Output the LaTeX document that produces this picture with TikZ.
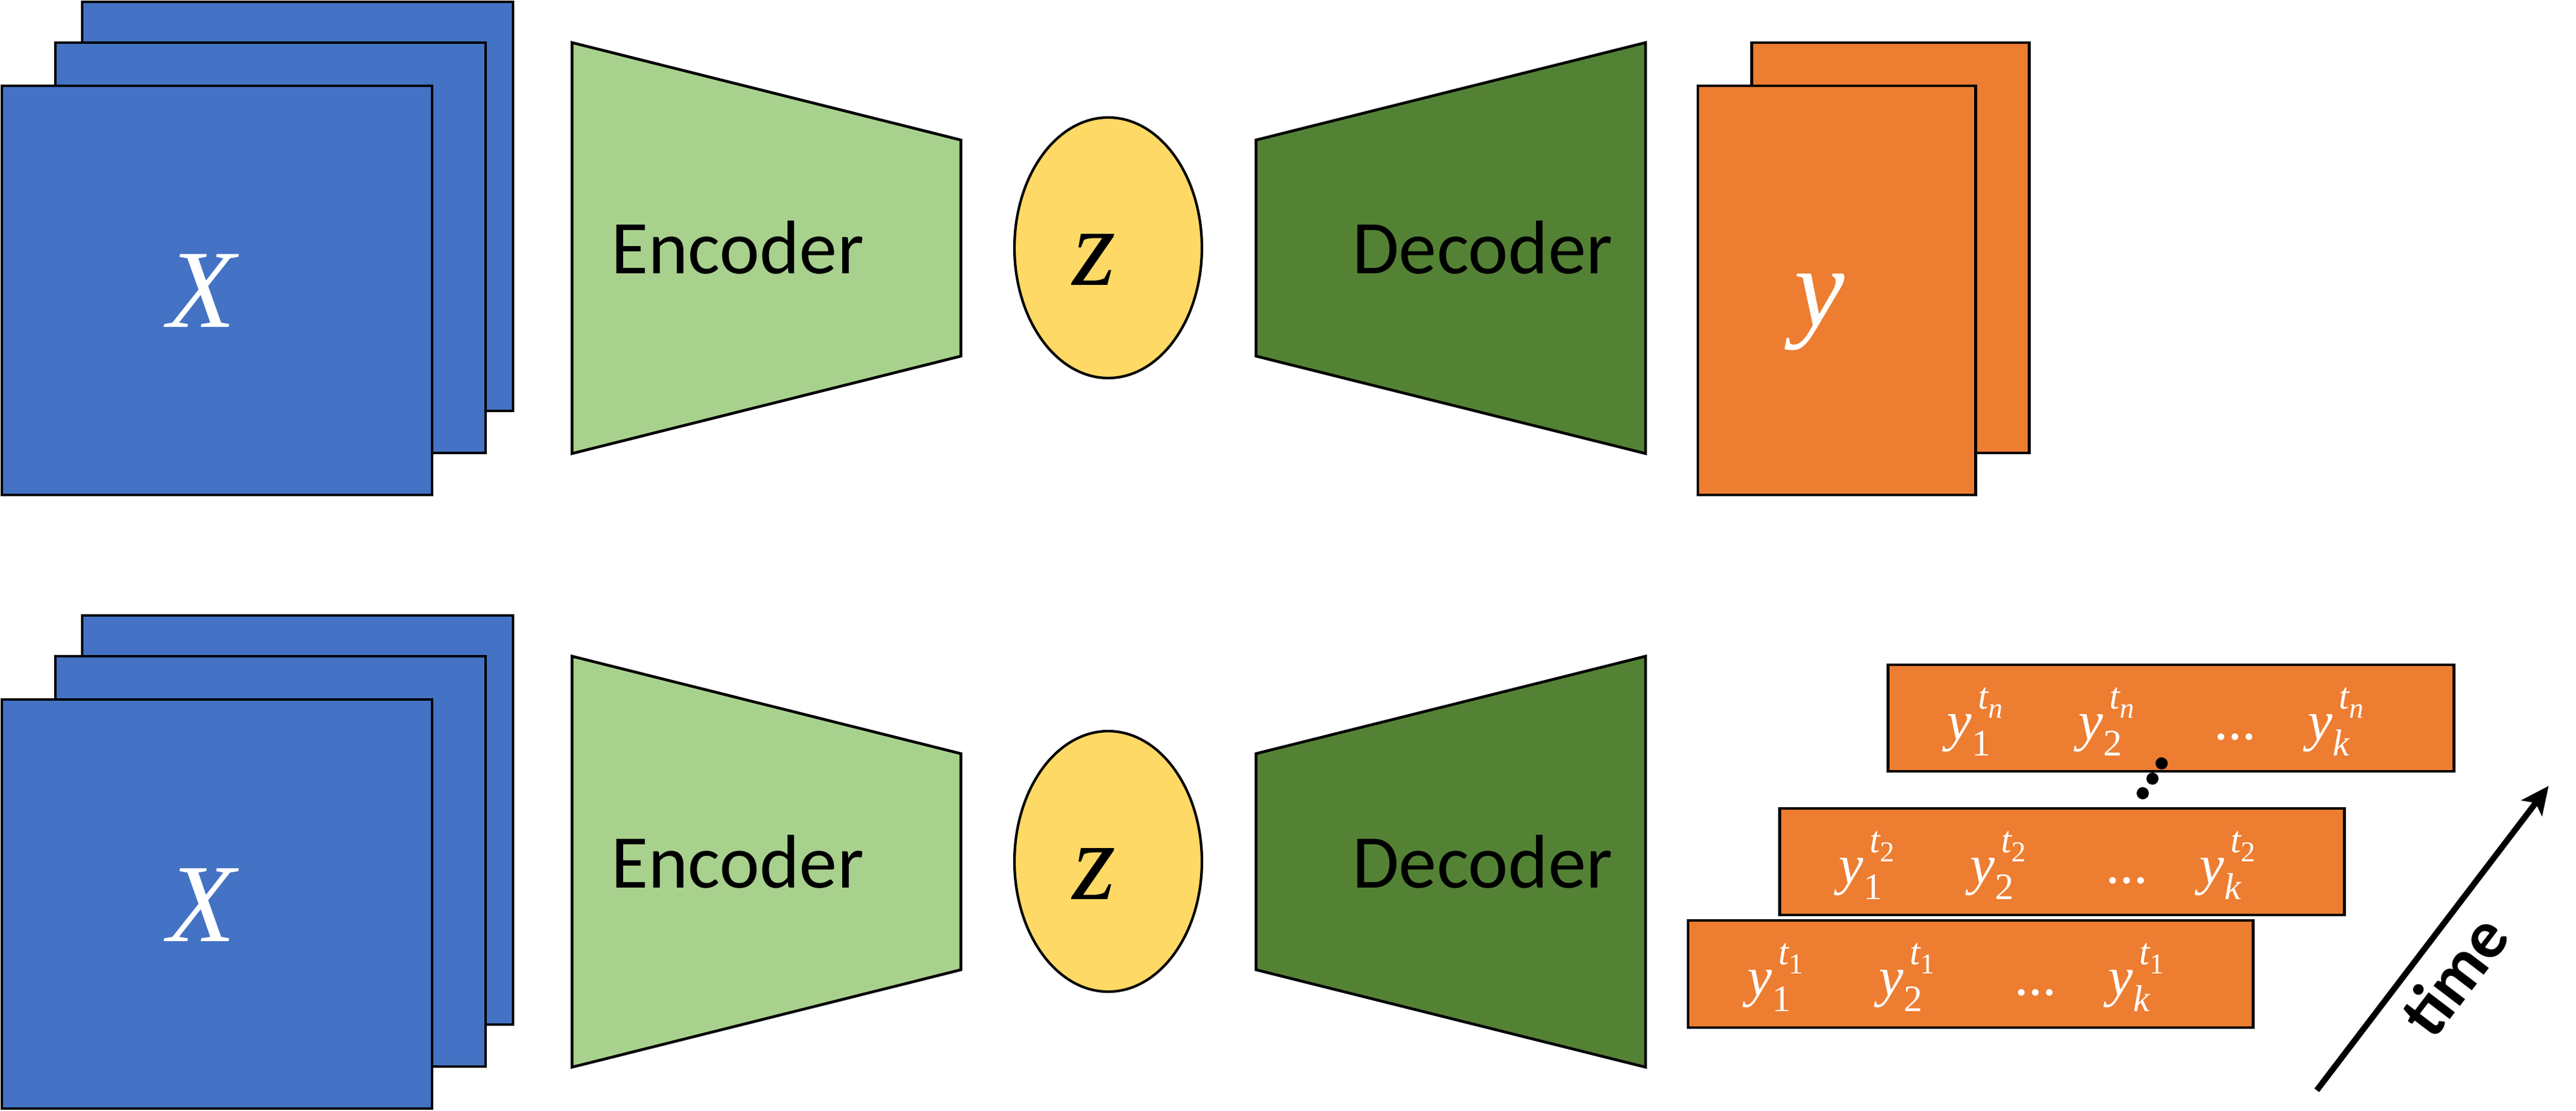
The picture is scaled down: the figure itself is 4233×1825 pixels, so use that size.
\RequirePackage{fix-cm}
\documentclass[tikz,border=0pt]{standalone}
\usepackage{fontspec}
\setmainfont{Carlito}
\newfontfamily\lsfont{Liberation Serif}
\usetikzlibrary{arrows.meta}
\definecolor{sheetblue}{HTML}{4472C4}
\definecolor{enccol}{HTML}{A9D18E}
\definecolor{deccol}{HTML}{548235}
\definecolor{latcol}{HTML}{FFD966}
\definecolor{outcol}{HTML}{ED7D31}
\newcommand{\mi}{\lsfont\itshape}
\newcommand{\yt}[2]{{\mi y}\rlap{\raisebox{-7.5pt}{\fontsize{17.5}{20}\selectfont\lsfont #1}}\hspace{3pt}\raisebox{14.5pt}{\fontsize{17.5}{20}\selectfont{\mi t}\raisebox{-4.5pt}{\fontsize{13.5}{15}\selectfont\lsfont #2}}}
\begin{document}
\begin{tikzpicture}[x=0.01cm,y=-0.01cm,
  bluesheet/.style={draw=black,line width=1.4pt,fill=sheetblue},
  encshape/.style={draw=black,line width=1.3pt,fill=enccol},
  decshape/.style={draw=black,line width=1.3pt,fill=deccol},
  latent/.style={draw=black,line width=1.2pt,fill=latcol},
  outsheet/.style={draw=black,line width=1.4pt,fill=outcol},
  boxtxt/.style={inner sep=0pt,anchor=base,font=\fontsize{35.5}{42}\selectfont},
  bigletter/.style={inner sep=0pt,anchor=base,font=\fontsize{52}{60}\selectfont\mi},
  term/.style={inner sep=0pt,anchor=base west,text=white,font=\fontsize{26}{31}\selectfont},
  timearrow/.style={draw=black,line width=2.8pt,-{Stealth[length=13pt,width=12pt,inset=3pt]}},
  timelabel/.style={inner sep=0pt,font=\fontsize{32}{38}\selectfont\bfseries}]
\useasboundingbox (0,0) rectangle (4233,1825);
\foreach \k/\dy in {a/0,b/1008}{
  \begin{scope}[shift={(0,\dy)}]
    \draw[bluesheet] (135,3) rectangle (843,675);
    \draw[bluesheet] (91,70) rectangle (798,744);
    \draw[bluesheet] (3,141) rectangle (710,813);
    \node[bigletter,text=white] (X\k) at (331,538) {X};
    \draw[encshape] (940,70) -- (1579,230) -- (1579,585) -- (940,745) -- cycle;
    \node[boxtxt] (enc\k) at (1212,450) {Encoder};
    \draw[latent] (1821,407) ellipse [x radius=154, y radius=214];
    \node[bigletter] (z\k) at (1798,469) {z};
    \draw[decshape] (2064,230) -- (2704,70) -- (2704,745) -- (2064,585) -- cycle;
    \node[boxtxt] (dec\k) at (2436,450) {Decoder};
  \end{scope}
}
% top output
\draw[outsheet] (2878,70) rectangle (3334,744);
\draw[outsheet] (2790,141) rectangle (3246,813);
\node[bigletter,text=white,font=\fontsize{53}{60}\selectfont\mi] (ya) at (2990,536) {y};
% bottom outputs
\draw[outsheet] (3102,1092) rectangle (4032,1267);
\draw[outsheet] (2924,1328) rectangle (3852,1503);
\draw[outsheet] (2774,1512) rectangle (3702,1688);
\foreach \L/\B/\s/\n in {3102/1215/{\itshape n}/n, 2924/1451/2/2, 2774/1635/1/1}{
  \node[term] (y1\n) at (\L+97,\B) {\yt{1}{\s}};
  \node[term] (y2\n) at (\L+313,\B) {\yt{2}{\s}};
  \node[term] (dd\n) at (\L+536,\B) {...};
  \node[term] (yk\n) at (\L+690,\B) {\yt{\itshape k}{\s}};
}
\fill (3552,1254) circle [radius=10];
\fill (3537,1279) circle [radius=10];
\fill (3521,1303) circle [radius=10];
% time arrow
\coordinate (ts) at (3807,1791);
\coordinate (te) at (4188,1291);
\draw[timearrow] (ts) -- (te);
\node[timelabel,rotate=52.7] (tlab) at (4032,1602) {time};
\end{tikzpicture}
\end{document}
